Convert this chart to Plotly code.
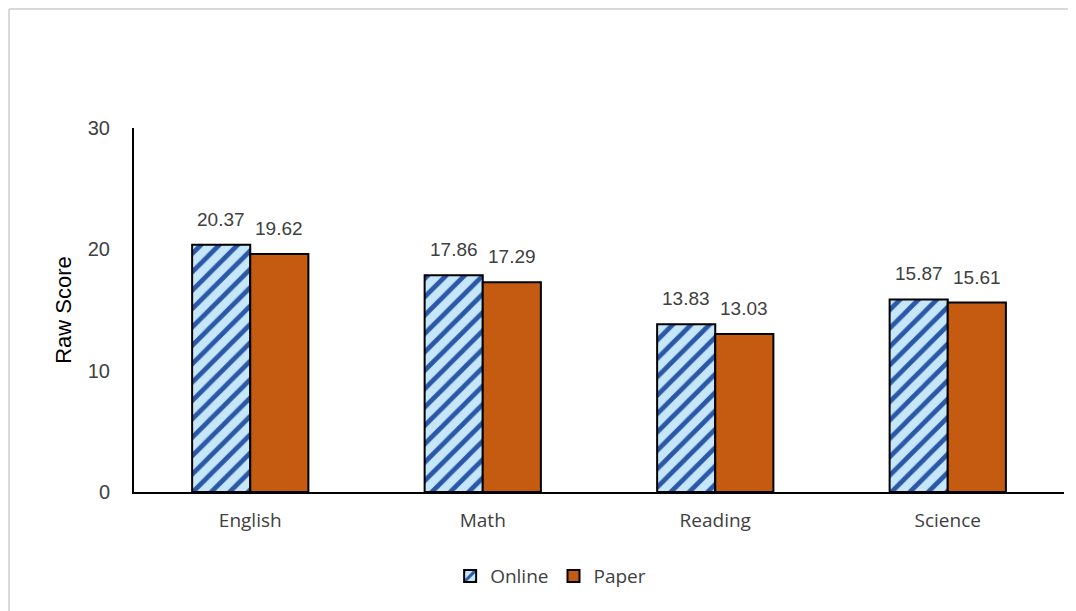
import plotly.graph_objects as go

subjects = ["English", "Math", "Reading", "Science"]
online = [20.37, 17.86, 13.83, 15.87]
paper = [19.62, 17.29, 13.03, 15.61]
y_ticks = [0, 10, 20, 30]

fig = go.Figure()

fig.add_trace(go.Bar(
    x=subjects, y=online, name="Online",
    marker=dict(color="#C6E6FA",
                line=dict(color="black", width=2),
                pattern=dict(shape="/", fgcolor="#2A58A6", bgcolor="#C6E6FA",
                             size=13, solidity=0.36, fgopacity=1)),
))
fig.add_trace(go.Bar(
    x=subjects, y=paper, name="Paper",
    marker=dict(color="#C55A11", line=dict(color="black", width=2)),
))

# data labels sit a bit above each bar, like the original
for vals, shift in [(online, -29), (paper, 29)]:
    for cat, v in zip(subjects, vals):
        fig.add_annotation(x=cat, y=v, text=f"{v:.2f}", showarrow=False,
                           xshift=shift, yshift=13, yanchor="bottom",
                           font=dict(size=19, color="#404040",
                                     family="Liberation Sans, Arial, sans-serif"))

# light grey frame around the chart (left and top edges visible)
fig.add_shape(type="line", xref="paper", yref="paper",
              x0=-0.1344, x1=-0.1344, y0=-0.4, y1=1.327,
              line=dict(color="#D9D9D9", width=2))
fig.add_shape(type="line", xref="paper", yref="paper",
              x0=-0.1344, x1=1.03, y0=1.327, y1=1.327,
              line=dict(color="#D9D9D9", width=2))

fig.update_layout(
    width=1076, height=611,
    margin=dict(l=126, r=20, t=120, b=127, autoexpand=False),
    paper_bgcolor="white", plot_bgcolor="white",
    barmode="group", bargap=0.5, bargroupgap=0,
    font=dict(family="Liberation Sans, Arial, sans-serif", color="#404040"),
    showlegend=True,
    legend=dict(orientation="h", x=0.448, xanchor="center", y=-0.231, yanchor="middle",
                font=dict(size=19, color="#404040", family="Open Sans, sans-serif"),
                itemwidth=30, traceorder="normal"),
    xaxis=dict(showline=True, linecolor="black", linewidth=2, ticks="",
               ticklabelstandoff=10, automargin=False,
               tickfont=dict(size=19, color="#404040", family="Open Sans, sans-serif")),
    yaxis=dict(range=[0, 30], tickvals=y_ticks, showline=True, linecolor="black",
               linewidth=2, showgrid=False, zeroline=False, ticks="",
               ticklabelstandoff=18, automargin=False,
               tickfont=dict(size=20, color="#404040"),
               title=dict(text="Raw Score", font=dict(size=22, color="black"), standoff=10)),
)

fig.write_html("out.html")
